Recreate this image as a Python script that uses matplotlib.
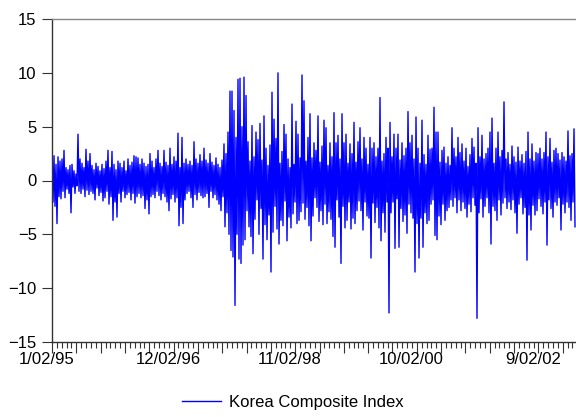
import numpy as np
import matplotlib.pyplot as plt
from matplotlib.ticker import FixedLocator, FixedFormatter
from matplotlib.transforms import ScaledTranslation

# Daily returns (%), one value per pixel column
ret_95_96 = [
    0.8, -2.0, 2.3, -2.4, 1.5, -4.0, 2.2, -1.5, 1.8, -1.7,
    2.0, -1.0, 2.8, -1.6, 1.2, -0.8, 1.0, -1.2, 1.4, -3.0,
    1.5, -0.6, 0.9, -1.2, 0.6, -0.5, 4.3, -1.0, 2.0, -1.2,
    1.6, -0.8, 1.2, -1.5, 2.9, -0.9, 1.8, -1.3, 2.5, -1.0,
    1.4, -1.2, 1.0, -1.8, 1.6, -0.7, 1.3, -1.4, 0.9, -1.1,
    1.5, -1.9, 1.1, -1.6, 1.8, -1.0, 2.8, -2.2, 1.2, -1.5,
    2.7, -3.7, 1.5, -2.0, 1.0, -3.4, 1.8, -1.2, 1.6, -2.0,
    1.2, -1.0, 1.8, -1.6, 0.9, -1.3, 2.0, -1.1, 1.4, -1.8,
    1.7, -1.2, 2.3, -2.1, 2.2, -1.5, 2.1, -1.2, 1.5, -1.6,
    2.0, -1.4, 1.6, -2.6, 1.3, -1.8, 1.5, -3.1, 2.5, -1.5,
    1.8, -1.3, 1.2, -1.6, 2.0, -1.0, 2.8, -1.4, 1.6, -1.8,
    1.3, -1.2, 2.8, -1.5, 1.7, -2.0, 1.4, -2.8, 3.0, -1.7,
]
ret_97_98 = [
    1.5, -1.3, 2.2, -2.0, 1.8, -1.6, 4.4, -4.2, 1.2, -2.5,
    4.0, -4.0, 1.6, -1.8, 2.0, -1.2, 1.5, -1.0, 1.8, -1.6,
    1.4, -2.5, 3.6, -1.3, 2.0, -1.8, 1.6, -1.1, 2.4, -1.4,
    1.8, -1.6, 3.0, -1.5, 1.9, -1.2, 1.6, -2.5, 2.5, -1.0,
    1.7, -1.6, 1.4, -1.3, 2.1, -1.8, 1.5, -2.2, 1.2, -2.8,
    1.9, -1.5, 3.4, -4.3, 2.5, -3.0, 4.5, -5.0, 8.3, -6.5,
    8.3, -7.1, 6.5, -11.6, 4.0, -5.0, 9.4, -7.3, 9.5, -7.7,
    5.0, -6.0, 9.6, -5.5, 7.9, -2.8, 3.6, -4.3, 1.8, -5.2,
    5.1, -6.8, 2.2, -3.6, 4.5, -1.8, 3.8, -5.0, 5.3, -2.6,
    1.9, -7.3, 6.0, -4.1, 3.0, -5.5, 1.4, -3.2, 3.3, -8.5,
    8.2, -4.8, 5.7, -2.4, 3.9, -4.5, 10.0, -5.9, 1.6, -3.7,
    2.7, -4.2, 5.2, -1.9, 4.3, -5.6, 2.0, -3.4, 1.2, -4.4,
]
ret_99_00 = [
    7.1, -3.1, 1.5, -2.0, 5.5, -4.0, 4.3, -3.7, 2.1, -2.9,
    9.8, -2.1, 7.4, -3.6, 1.8, -2.5, 4.0, -4.2, 6.2, -5.6,
    2.1, -3.3, 3.5, -1.6, 2.8, -2.5, 6.0, -3.8, 1.7, -2.8,
    3.2, -4.1, 5.6, -2.2, 4.9, -4.0, 1.4, -2.9, 3.5, -3.6,
    2.2, -5.2, 6.3, -6.2, 3.5, -1.8, 4.2, -3.4, 2.0, -7.7,
    6.2, -2.4, 3.5, -4.4, 4.3, -3.7, 1.6, -2.0, 3.4, -4.5,
    2.5, -3.5, 5.4, -4.0, 1.7, -2.8, 3.6, -1.9, 4.9, -2.8,
    2.0, -4.6, 4.0, -2.0, 3.0, -3.3, 1.5, -3.5, 4.0, -7.2,
    3.0, -2.1, 3.5, -3.9, 2.2, -2.5, 3.0, -4.4, 7.7, -5.6,
    1.8, -3.0, 2.5, -4.8, 4.0, -2.0, 3.0, -12.3, 5.4, -3.0,
    2.2, -2.0, 4.3, -6.3, 3.0, -1.7, 4.3, -6.2, 1.9, -2.6,
    3.5, -3.8, 2.3, -3.2, 3.0, -4.9, 6.4, -2.2, 3.5, -3.0,
]
ret_01_02 = [
    4.2, -3.5, 2.0, -8.5, 5.9, -4.0, 3.0, -7.2, 1.6, -3.5,
    5.6, -6.2, 2.4, -3.0, 1.5, -4.0, 4.2, -3.7, 2.9, -2.2,
    3.0, -1.8, 6.8, -5.1, 4.5, -5.5, 4.5, -3.3, 1.7, -4.1,
    2.8, -2.2, 3.1, -3.7, 1.6, -2.8, 2.2, -2.5, 1.4, -1.8,
    4.9, -2.4, 3.0, -1.6, 2.2, -3.0, 4.0, -1.8, 2.6, -2.8,
    3.4, -2.0, 1.8, -2.6, 3.0, -3.4, 1.3, -2.2, 2.4, -2.9,
    3.9, -1.6, 3.1, -2.3, 1.6, -12.8, 4.9, -3.0, 2.2, -1.7,
    4.2, -3.4, 2.0, -2.4, 2.5, -1.6, 3.0, -3.0, 4.5, -5.9,
    5.8, -2.4, 1.6, -2.8, 3.0, -3.7, 4.5, -1.8, 2.2, -3.2,
    2.8, -2.1, 7.3, -1.6, 2.0, -2.6, 2.6, -2.0, 1.5, -2.7,
    3.2, -1.8, 2.2, -3.0, 1.7, -4.9, 3.1, -2.2, 1.8, -1.6,
    2.4, -3.1, 1.6, -2.5, 2.7, -7.4, 4.5, -3.2, 2.0, -4.6,
]
ret_02_03 = [
    3.4, -2.3, 1.8, -3.2, 2.6, -2.8, 2.5, -1.7, 3.0, -2.4,
    2.0, -3.1, 2.6, -2.0, 4.5, -6.0, 2.2, -1.8, 3.9, -2.6,
    1.7, -3.4, 2.8, -2.0, 3.0, -2.3, 2.5, -1.6, 1.9, -4.6,
    2.6, -2.2, 2.2, -3.0, 1.8, -2.0, 4.6, -2.5, 2.3, -3.7,
    2.5, -2.0, 4.8, -4.3,
]

date_labels = ["1/02/95", "12/02/96", "11/02/98", "10/02/00", "9/02/02"]
label_step = 121.6

returns = np.array(ret_95_96 + ret_97_98 + ret_99_00 + ret_01_02 + ret_02_03)
obs = np.arange(len(returns))

plt.rcParams['font.family'] = ['Liberation Sans', 'DejaVu Sans']

fig = plt.figure(figsize=(5.76, 4.17), dpi=100)
ax = fig.add_axes([52 / 576, 1 - 342 / 417, 528 / 576, 323 / 417])

line, = ax.plot(obs, returns, color='#0000ff', lw=1.0, label='Korea Composite Index')

ax.set_xlim(0, 528)
ax.set_ylim(-15, 15)
ax.set_yticks(np.arange(-15, 16, 5))

# x ticks: labels every 121.6 obs, medium ticks every fifth of that, small ones in between
major_pos = np.arange(0, 528, label_step / 5)
minor_pos = np.arange(0, 528, label_step / 25)
major_txt = [date_labels[i // 5] if i % 5 == 0 and i // 5 < len(date_labels) else ""
             for i in range(len(major_pos))]
ax.xaxis.set_major_locator(FixedLocator(major_pos))
ax.xaxis.set_major_formatter(FixedFormatter(major_txt))
ax.xaxis.set_minor_locator(FixedLocator(minor_pos))

ax.tick_params(axis='both', which='major', direction='out', length=7, width=0.8,
               color='#333333', labelsize=12, labelcolor='black')
ax.tick_params(axis='x', which='major', length=8, pad=-1)
ax.tick_params(axis='x', which='minor', direction='out', length=4.5, width=0.8, color='#333333')
ax.tick_params(axis='y', pad=4)

shift = ScaledTranslation(-5.5 / 100, 0, fig.dpi_scale_trans)
for t in ax.xaxis.get_major_ticks():
    t.label1.set_transform(t.label1.get_transform() + shift)

for side in ['left', 'bottom']:
    ax.spines[side].set_color('#333333')
    ax.spines[side].set_linewidth(1.0)
ax.spines['top'].set_color('#888888')
ax.spines['top'].set_linewidth(1.0)
ax.spines['right'].set_visible(False)

fig.legend(handles=[line], loc='center', bbox_to_anchor=(293 / 576, 1 - 402 / 417),
           frameon=False, fontsize=12, handlelength=2.35, handletextpad=0.5)

fig.savefig('out.png', dpi=100)
